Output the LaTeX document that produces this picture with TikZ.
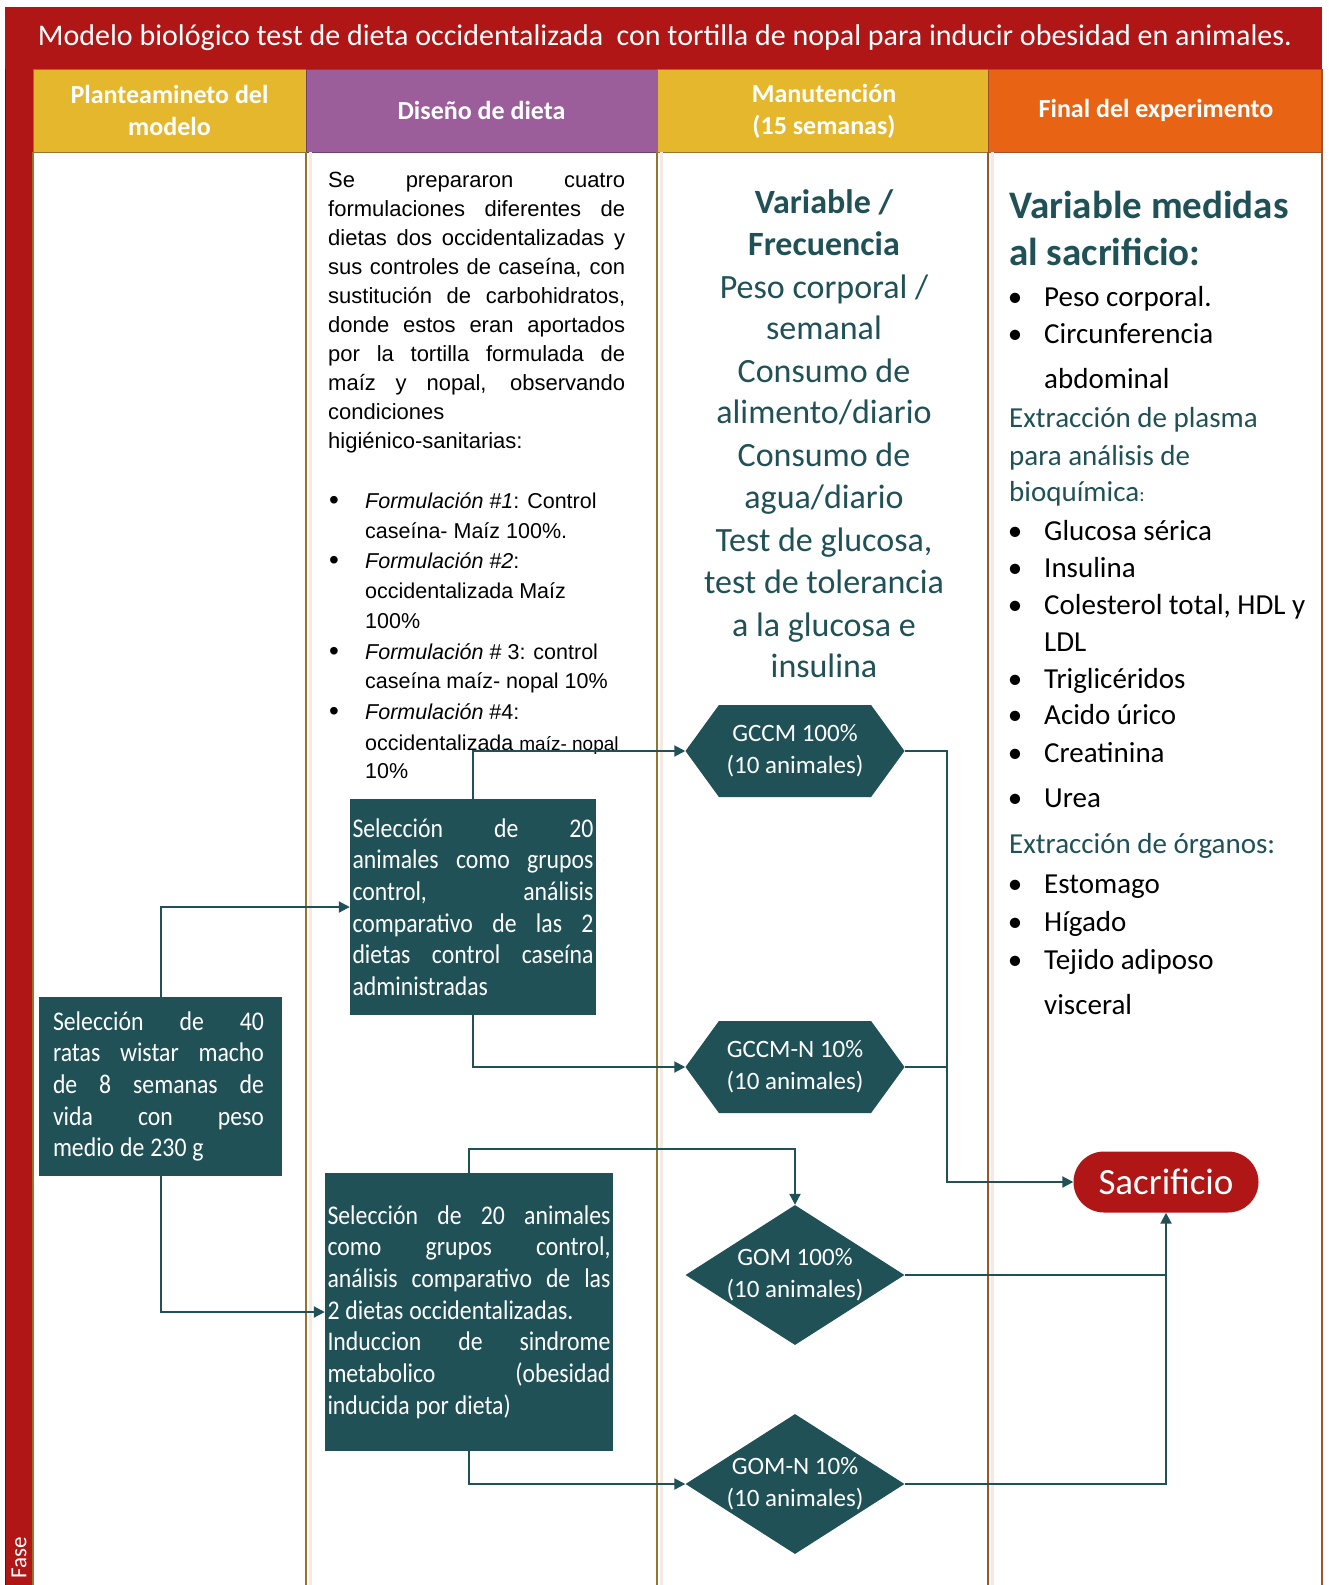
\documentclass[tikz,border=0pt]{standalone}
\usepackage{fontspec}
\setmainfont{Carlito}
\newfontfamily\arialf{Liberation Sans}
\newfontfamily\boxf{Carlito}[FakeStretch=0.88]
\usetikzlibrary{shapes.geometric,shapes.misc,shapes.symbols,arrows.meta,calc}
\definecolor{tred}{HTML}{B01616}
\definecolor{gold}{HTML}{E5B72C}
\definecolor{purp}{HTML}{9C5E9A}
\definecolor{orng}{HTML}{E86414}
\definecolor{teal}{HTML}{1F5157}
\definecolor{lgold}{HTML}{94742F}
\definecolor{lbrown}{HTML}{A0522D}
\definecolor{lshade}{HTML}{F6E9E4}
\newcommand\fs[2]{\fontsize{#1}{#2}\selectfont}
\newcommand\jl[2]{\makebox[#1][s]{\spaceskip=.22em plus 1fil\relax #2}}
\newcommand\lln[2]{\makebox[#1][l]{\spaceskip=.22em\relax #2}}
\begin{document}
\begin{tikzpicture}[x=1pt,y=-1pt,
  hdr/.style={text=white, font=\bfseries\fs{26}{32}, align=center, inner sep=0},
  ar/.style={font=\arialf\fs{22}{29}, anchor=base west, inner sep=0, text=black},
  arl/.style={font=\arialf\fs{21.5}{29}, anchor=base west, inner sep=0, text=black},
  blt/.style={font=\arialf\fs{28}{29}, anchor=base, inner sep=0, text=black},
  mt/.style={font=\fs{34}{42}, text=teal, anchor=base, inner sep=0},
  rt/.style={font=\fs{29}{37}, anchor=base west, inner sep=0, text=black},
  rb/.style={font=\fs{29}{37}, anchor=base, inner sep=0, text=black},
  box/.style={fill=teal, text=white, font=\boxf\fs{27}{31.7}, align=left, inner sep=0},
  hexa/.style={signal, signal to=east and west, signal pointer angle=108, fill=teal, minimum width=219pt, minimum height=92pt, inner sep=0},
  diam/.style={diamond, fill=teal, minimum width=219pt, minimum height=140pt, inner sep=0},
  stext/.style={text=white, font=\fs{25}{32}, align=center, inner sep=0},
  conn/.style={draw=teal, line width=2pt, -{Triangle[length=11pt,width=11pt]}},
  plain/.style={draw=teal, line width=2pt},
  sepline/.style={line width=1.6pt}
]
\fill[white] (0,0) rectangle (1329,1585);
\useasboundingbox (0,0) rectangle (1329,1585);
% title bar
\fill[tred] (5,7) rectangle (1322,69);
\node[text=white, font=\fs{30}{34}, inner sep=0] (title) at (665,38) {Modelo biológico test de dieta occidentalizada\ \ con tortilla de nopal para inducir obesidad en animales.};
% left strip
\fill[tred] (5,69) rectangle (33,1585);
\draw[tred!60!black, line width=1pt] (5.5,69) -- (5.5,1585);
\node[rotate=90, text=white, font=\fs{23}{26}, inner sep=0] (fase) at (19,1558) {Fase};
% headers
\filldraw[fill=gold, draw=lgold, line width=1pt] (33,69) rectangle (306,152);
\filldraw[fill=purp, draw=purp!70!black, line width=1pt] (306,69) rectangle (657,152);
\filldraw[fill=gold, draw=lgold, line width=1pt] (657,69) rectangle (988,152);
\filldraw[fill=orng, draw=lbrown, line width=1pt] (988,69) rectangle (1322,152);
\node[hdr] (hd1) at (169.5,110) {Planteamineto del\\modelo};
\node[hdr] (hd2) at (481.5,110) {Diseño de dieta};
\node[hdr] (hd3) at (824,111) {Manutención\\(15 semanas)};
\node[hdr] (hd4) at (1156,110) {Final del experimento};
% column separators
\draw[lshade, line width=3pt] (310,152) -- (310,1585);
\draw[lshade, line width=3pt] (661,152) -- (661,1585);
\draw[lshade, line width=3pt] (992,152) -- (992,1585);
\draw[lgold, sepline] (33,152) -- (33,1585);
\draw[lgold, sepline] (306,152) -- (306,1585);
\draw[lgold, sepline] (657,152) -- (657,1585);
\draw[lbrown, sepline] (988,152) -- (988,1585);
\draw[lbrown, sepline] (1322,69) -- (1322,1585);
% middle column text
\foreach \t [count=\i] in {
 {\jl{297pt}{Se prepararon cuatro}},
 {\jl{297pt}{formulaciones diferentes de}},
 {\jl{297pt}{dietas dos occidentalizadas y}},
 {\jl{297pt}{sus controles de caseína, con}},
 {\jl{297pt}{sustitución de carbohidratos,}},
 {\jl{297pt}{donde estos eran aportados}},
 {\jl{297pt}{por la tortilla formulada de}},
 {\jl{297pt}{maíz y nopal, observando}},
 {condiciones},
 {higiénico-sanitarias:}}
 \node[ar] (m\i) at (328,158+29*\i) {\t};
\foreach \y [count=\i] in {509,569,660,720}
 \node[blt] (mb\i) at (334,\y) {\textbullet};
\node[arl] (l1) at (365,508) {\textit{Formulación \#1}: Control};
\node[arl] (l2) at (365,538) {caseína- Maíz 100\%.};
\node[arl] (l3) at (365,568) {\textit{Formulación \#2}:};
\node[arl] (l4) at (365,598) {occidentalizada Maíz};
\node[arl] (l5) at (365,628) {100\%};
\node[arl] (l6) at (365,659) {\textit{Formulación \#} 3: control};
\node[arl] (l7) at (365,688) {caseína maíz- nopal 10\%};
\node[arl] (l8) at (365,719) {\textit{Formulación} \#4:};
\node[arl] (l9) at (365,750) {occidentalizada {\fs{19}{22}maíz- nopal}};
\node[arl] (l10) at (365,778) {10\%};
% manutencion column text
\node[mt, font=\bfseries\fs{34}{42}] (v1) at (824,213) {Variable /};
\node[mt, font=\bfseries\fs{34}{42}] (v2) at (824,255) {Frecuencia};
\foreach \y/\t [count=\i] in {298/{Peso corporal /}, 339/semanal, 382/Consumo de, 423/{alimento/diario}, 466/Consumo de, 508/{agua/diario}, 551/{Test de glucosa,}, 593/test de tolerancia, 636/a la glucosa e, 677/insulina}
 \node[mt] (mv\i) at (824,\y) {\t};
% final column text
\node[rt, text=teal, font=\bfseries\fs{39}{46}] (r1) at (1009,218) {Variable medidas};
\node[rt, text=teal, font=\bfseries\fs{39}{46}] (r2) at (1009,265) {al sacrificio:};
\foreach \y [count=\i] in {306,343,540,577,614,688,724,762,807,893,931,969}
 \node[rb] (rbul\i) at (1015,\y) {\textbullet};
\foreach \y/\t [count=\i] in {306/Peso corporal., 343/Circunferencia, 388/abdominal, 540/Glucosa sérica, 577/Insulina, 614/{Colesterol total, HDL y}, 651/LDL, 688/Triglicéridos, 724/Acido úrico, 762/Creatinina, 807/Urea, 893/Estomago, 931/Hígado, 969/Tejido adiposo, 1014/visceral}
 \node[rt] (ri\i) at (1044,\y) {\t};
\node[rt, text=teal] (rx1) at (1009,427) {Extracción de plasma};
\node[rt, text=teal] (rx2) at (1009,465) {para análisis de};
\node[rt, text=teal] (rx3) at (1009,501) {bioquímica{\fs{20}{22}:}};
\node[rt, text=teal] (rx4) at (1009,853) {Extracción de órganos:};
% boxes
\node[box, minimum width=243pt, minimum height=179pt, text width=215pt] (box1) at (160.5,1086.5) {%
\jl{211pt}{Selección de 40}\\
\jl{211pt}{ratas wistar macho}\\
\jl{211pt}{de 8 semanas de}\\
\jl{211pt}{vida con peso}\\
\lln{211pt}{medio de 230 g}};
\node[box, minimum width=246pt, minimum height=216pt, text width=241pt] (box2) at (473,907) {%
\jl{241pt}{Selección de 20}\\
\jl{241pt}{animales como grupos}\\
\jl{241pt}{control, análisis}\\
\jl{241pt}{comparativo de las 2}\\
\jl{241pt}{dietas control caseína}\\
\lln{241pt}{administradas}};
\node[box, minimum width=288pt, minimum height=278pt, text width=283pt] (box3) at (469,1312) {%
\jl{283pt}{Selección de 20 animales}\\
\jl{283pt}{como grupos control,}\\
\jl{283pt}{análisis comparativo de las}\\
\lln{283pt}{2 dietas occidentalizadas.}\\
\jl{283pt}{Induccion de sindrome}\\
\jl{283pt}{metabolico (obesidad}\\
\lln{283pt}{inducida por dieta)}};
% groups
\node[hexa] (h1) at (795,751) {};
\node[hexa] (h2) at (795,1067) {};
\node[diam] (d1) at (795,1275) {};
\node[diam] (d2) at (795,1484) {};
\node[stext] (th1) at (h1) {GCCM 100\%\\(10 animales)};
\node[stext] (th2) at (h2) {GCCM-N 10\%\\(10 animales)};
\node[stext] (td1) at (d1) {GOM 100\%\\(10 animales)};
\node[stext] (td2) at (d2) {GOM-N 10\%\\(10 animales)};
\node[rounded rectangle, fill=tred, minimum width=185pt, minimum height=61pt, text=white, font=\fs{37}{40}, inner sep=0] (sac) at (1166,1182) {Sacrificio};
\coordinate (k1) at (795,1149);
\coordinate (j1) at (947,1182);
% connectors
\draw[conn] (box1.north) |- (box2.west);
\draw[conn] (box1.south) |- (box3.west);
\draw[conn] (box2.north) |- (h1.west);
\draw[conn] (box2.south) |- (h2.west);
\draw[conn] (box3.north) |- (k1) -- (d1.north);
\draw[conn] (box3.south) |- (d2.west);
\draw[conn] (h1.east) -| (j1) -- (sac.west);
\draw[plain] (h2.east) -- (h2.east -| j1);
\draw[conn] (d2.east) -| (sac.south);
\draw[plain] (d1.east) -- (d1.east -| sac.south);
\end{tikzpicture}
\end{document}
